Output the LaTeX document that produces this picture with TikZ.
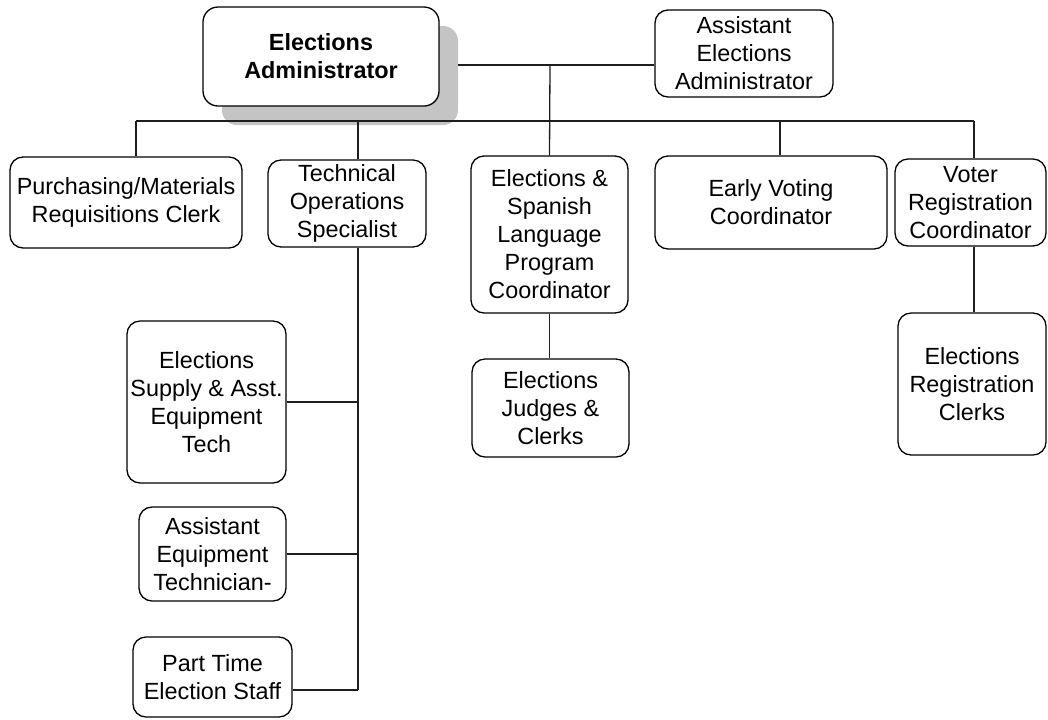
\documentclass[tikz,border=0pt]{standalone}
\usepackage{fontspec}
\setmainfont{Liberation Sans}
\usetikzlibrary{backgrounds}
\definecolor{shadowgray}{RGB}{196,196,196}
\definecolor{linkgray}{RGB}{30,30,30}
\begin{document}
\begin{tikzpicture}[x=0.5pt,y=-0.5pt,
  post/.style={draw=black, line width=0.65pt, fill=white, rounded corners=6.5pt,
    align=center, inner sep=0pt, font=\fontsize{11.7}{14}\selectfont},
  headpost/.style={post, rounded corners=7.5pt, font=\fontsize{11.7}{14}\selectfont\bfseries},
  link/.style={draw=linkgray, line width=0.65pt},
]
\useasboundingbox (0,0) rectangle (1048,719);

% junctions of the connector lines
\coordinate (jTop) at (550,65);
\coordinate (busL) at (136,121);
\coordinate (busR) at (974,121);
\coordinate (techEnd) at (358,690);

% posts
\node[headpost, minimum width=118pt, minimum height=49.5pt] (admin) at (321,56.5) {Elections\\Administrator};
\node[post, minimum width=89pt, minimum height=43.5pt] (asst) at (744,53.5) {Assistant\\Elections\\Administrator};
\node[post, minimum width=116pt, minimum height=45.5pt] (purch) at (126,202.5) {Purchasing/Materials\\Requisitions Clerk};
\node[post, minimum width=79pt, minimum height=43.5pt] (tech) at (347,203.5) {Technical\\Operations\\Specialist};
\node[post, minimum width=78.5pt, minimum height=78.5pt] (spanish) at (549.5,234.5) {Elections \&\\Spanish\\Language\\Program\\Coordinator};
\node[post, minimum width=116pt, minimum height=46.5pt] (early) at (771,202.5) {Early Voting\\Coordinator};
\node[post, minimum width=75.5pt, minimum height=43.5pt] (voter) at (970.5,202.5) {Voter\\Registration\\Coordinator};
\node[post, minimum width=78.5pt, minimum height=49pt] (judges) at (550.5,408) {Elections\\Judges \&\\Clerks};
\node[post, minimum width=74pt, minimum height=71pt] (regclerks) at (972,384) {Elections\\Registration\\Clerks};
\node[post, minimum width=79.5pt, minimum height=81pt] (supply) at (206.5,402) {Elections\\Supply \& Asst.\\Equipment\\Tech};
\node[post, minimum width=73.5pt, minimum height=47pt] (asstequip) at (212.5,554) {Assistant\\Equipment\\Technician-};
\node[post, minimum width=79.5pt, minimum height=40pt] (parttime) at (212.5,677) {Part Time\\Election Staff};

\begin{pgfonlayer}{background}
  % drop shadow of the head post
  \node[fill=shadowgray, rounded corners=7.5pt, inner sep=0pt,
        minimum width=118pt, minimum height=49.5pt] (adminshadow) at (340,75.5) {};

  % head post to its assistant, and down to the staff bus
  \draw[link] (jTop -| adminshadow.east) -- (jTop -| asst.west);
  \draw[link] (jTop) -- (spanish.north);

  % staff bus and its drops
  \draw[link] (busL) -- (busR);
  \draw[link] (busL) -- (busL |- purch.north);
  \draw[link] (busL -| techEnd) -- (techEnd |- tech.north);
  \draw[link] (busL -| early.north) ++(9,0) coordinate (earlyDrop) -- (earlyDrop |- early.north);
  \draw[link] (busR) -- (busR |- voter.north);

  % technical operations branch
  \draw[link] (techEnd |- tech.south) -- (techEnd);
  \draw[link] (techEnd |- supply.east) -- (supply.east);
  \draw[link] (techEnd |- asstequip.east) -- (asstequip.east);
  \draw[link] (techEnd |- 0,690) -- (parttime.east |- 0,690);

  % second-level drops
  \draw[link] (spanish.south) -- (spanish.south |- judges.north);
  \draw[link] (busR |- voter.south) -- (busR |- regclerks.north);
\end{pgfonlayer}
\end{tikzpicture}
\end{document}
